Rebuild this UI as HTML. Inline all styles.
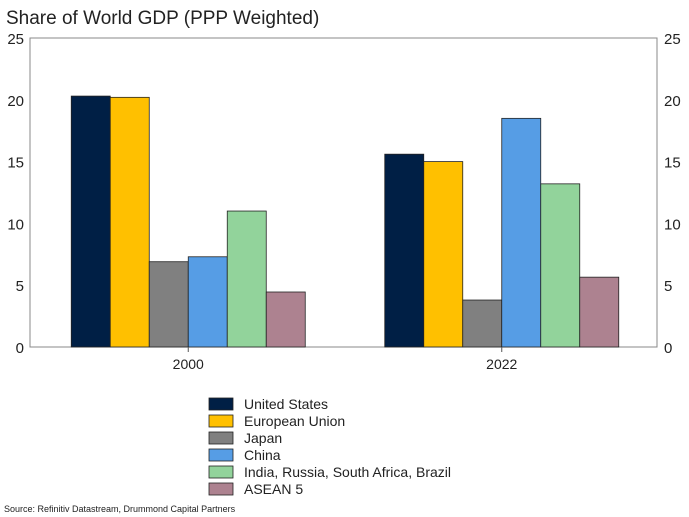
<!DOCTYPE html>
<html><head><meta charset="utf-8"><style>
body{margin:0;background:#fff;font-family:"Liberation Sans",Arial,sans-serif;}
svg{display:block}
</style></head><body>
<svg id="c" width="689" height="517" xmlns="http://www.w3.org/2000/svg">
<text x="6" y="24" font-size="19" fill="#222">Share of World GDP (PPP Weighted)</text>
<rect x="30" y="38" width="627" height="309" fill="none" stroke="#888" stroke-width="1"/>
<g id="bars"></g><g id="axes"></g><g id="legend"></g>
<text x="4" y="512" font-size="9" fill="#222">Source: Refinitiv Datastream, Drummond Capital Partners</text>
</svg>
<script>
const categories=["2000","2022"];
const seriesNames=["United States","European Union","Japan","China","India, Russia, South Africa, Brazil","ASEAN 5"];
const usValues=[20.3,15.6];
const euValues=[20.2,15.0];
const japanValues=[6.9,3.8];
const chinaValues=[7.3,18.5];
const indiaValues=[11.0,13.2];
const aseanValues=[4.45,5.65];
const yTicks=[0,5,10,15,20,25];
const colors=["#001f45","#ffc000","#808080","#569de5","#92d39b","#ad8290"];
const series=[usValues,euValues,japanValues,chinaValues,indiaValues,aseanValues];
const NS="http://www.w3.org/2000/svg";
const L=30,R=657,T=38,B=347,yMax=25;
const y=v=>B-(v/yMax)*(B-T);
const bw=(R-L)/categories.length;
const cx=i=>L+1.5+bw*(i+0.5);
const barW=39;
function mk(tag,attrs,parent){const e=document.createElementNS(NS,tag);for(const k in attrs)e.setAttribute(k,attrs[k]);parent.appendChild(e);return e;}
const gb=document.getElementById('bars'),ga=document.getElementById('axes'),gl=document.getElementById('legend');
categories.forEach((c,i)=>{
  const start=cx(i)-barW*series.length/2;
  series.forEach((s,j)=>{
    const r=mk('rect',{x:start+j*barW,y:y(s[i]),width:barW,height:B-y(s[i]),fill:colors[j],stroke:"#222","stroke-width":0.8},gb);
    
    
  });
  const t=mk('line',{x1:cx(i),x2:cx(i),y1:B,y2:B+5,stroke:"#555"},ga);
  
  
  const tx=mk('text',{x:cx(i),y:B+22,"font-size":14,"text-anchor":"middle",fill:"#222"},ga);
  tx.textContent=c;
  
  
});
yTicks.forEach(v=>{
  const a=mk('text',{x:24,y:y(v)+6,"font-size":15,"text-anchor":"end",fill:"#222"},ga);
  a.textContent=v;
  
  
  const b=mk('text',{x:664,y:y(v)+6,"font-size":15,"text-anchor":"start",fill:"#222"},ga);
  b.textContent=v;
  
  
});
seriesNames.forEach((n,j)=>{
  const yy=398+j*17;
  const r=mk('rect',{x:209,y:yy,width:24,height:12,fill:colors[j],stroke:"#222","stroke-width":0.8},gl);
  
  
  const t=mk('text',{x:244,y:yy+11,"font-size":14,fill:"#222"},gl);
  t.textContent=n;
  
  
});
</script>
</body></html>
